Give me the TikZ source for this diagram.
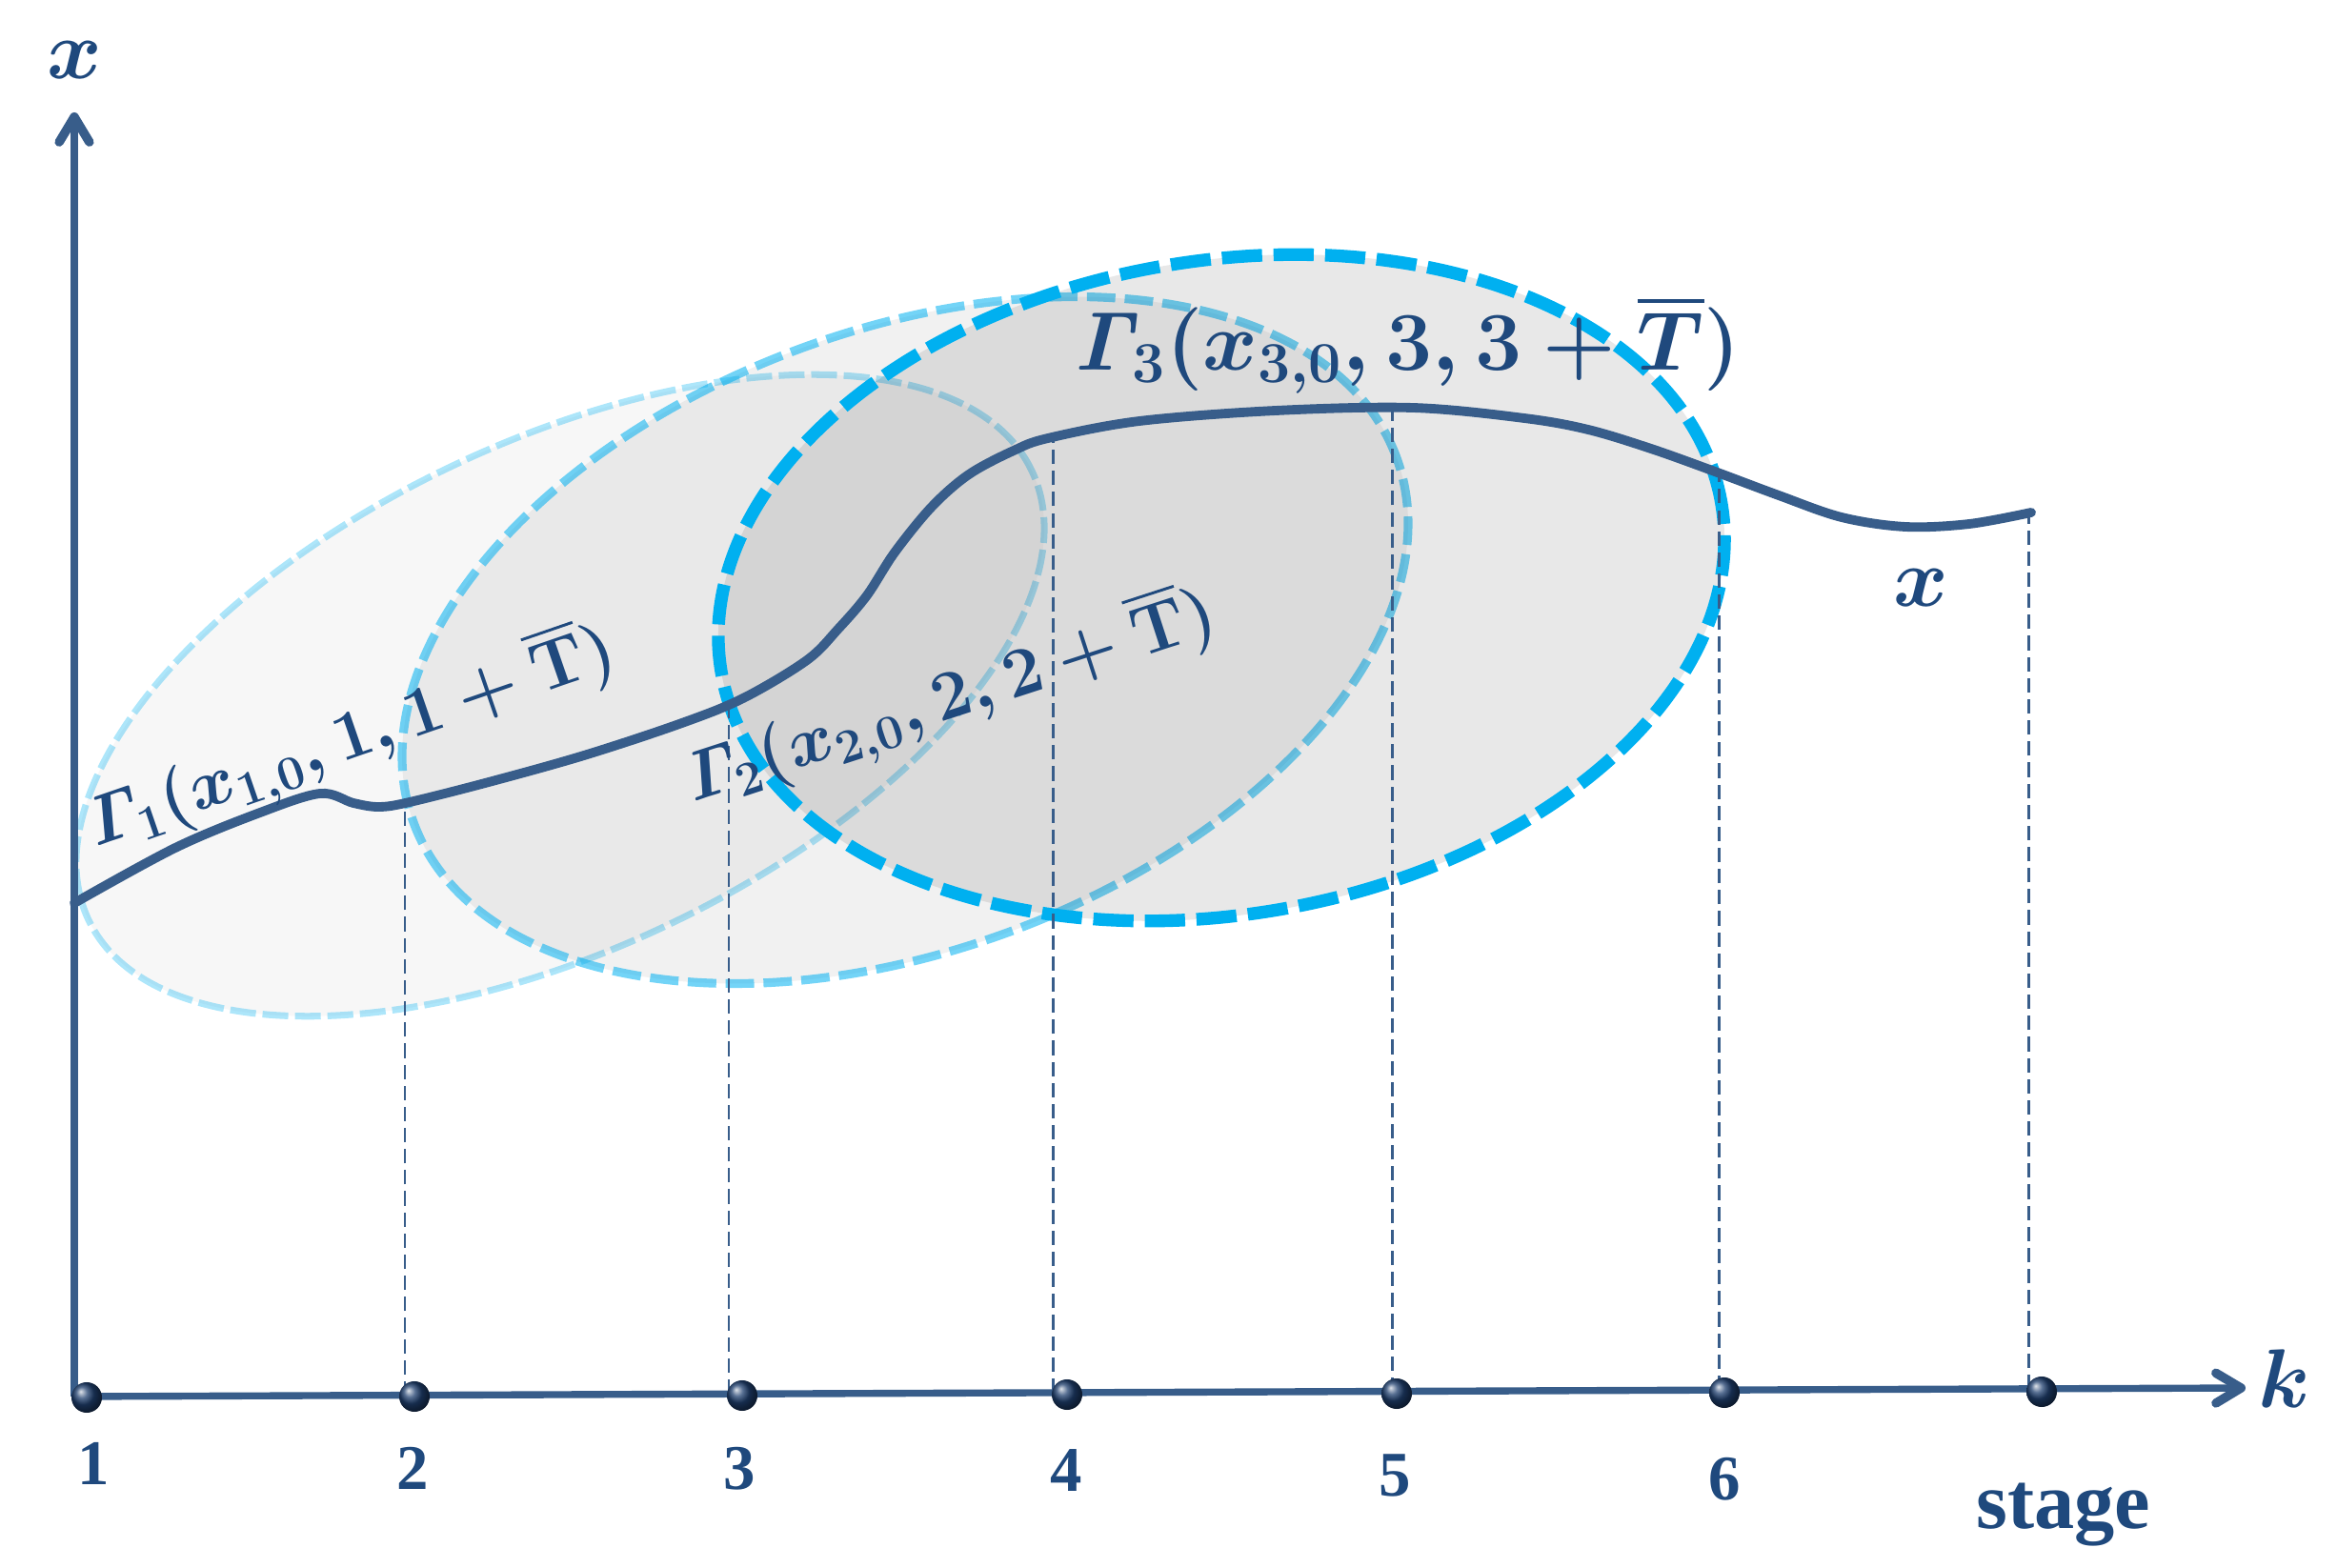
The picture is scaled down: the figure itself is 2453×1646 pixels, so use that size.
\documentclass[tikz,border=0pt]{standalone}
\usepackage{amsmath}
\usepackage{graphicx}
\usepackage[no-math]{fontspec}
\newfontfamily\lblfont{Liberation Serif}
\usetikzlibrary{arrows.meta}
\definecolor{axisblue}{HTML}{385D8A}
\definecolor{txtblue}{HTML}{1F497D}
\definecolor{cyanb}{HTML}{00B0F0}
\definecolor{dotblue}{HTML}{1F3F6E}
\newcommand{\numfont}{\lblfont\bfseries\fontsize{19}{19}\selectfont}
\newcommand{\stagefont}{\lblfont\bfseries\fontsize{24}{24}\selectfont}
\newcommand{\varfont}{\fontsize{24}{24}\selectfont}
\newcommand{\glabfont}{\fontsize{20}{20}\selectfont}
\newcommand{\gbigfont}{\fontsize{26.5}{26.5}\selectfont}
\newcommand{\labone}{$\boldsymbol{\mathit{\Gamma}_{1}(x_{1,0},1,1+\overline{\mathrm{T}})}$}
\newcommand{\labtwo}{$\boldsymbol{\mathit{\Gamma}_{2}(x_{2,0},2,2+\overline{\mathrm{T}})}$}
\newcommand{\labthree}{$\boldsymbol{\mathit{\Gamma}_{3}(x_{3,0},3,3+\overline{T})}$}
\begin{document}
\begin{tikzpicture}[x=0.01cm,y=-0.01cm,
  axisline/.style={draw=axisblue, line width=2.1pt},
  trajectory/.style={draw=axisblue, line width=2.8pt, line cap=round},
  guide/.style={draw=axisblue, line width=0.85pt, dash pattern=on 4.3pt off 2pt},
  lbl/.style={text=txtblue, inner sep=0pt},
  stagenum/.style={lbl, font=\numfont},
  ellone/.style={fill=black, fill opacity=0.03, draw=cyanb, draw opacity=0.32, line width=2pt, dash pattern=on 7.7pt off 2pt},
  elltwo/.style={fill=black, fill opacity=0.055, draw=cyanb, draw opacity=0.55, line width=2.6pt, dash pattern=on 8.5pt off 2.8pt},
  ellthree/.style={fill=black, fill opacity=0.09, draw=cyanb, line width=3.8pt, dash pattern=on 12pt off 3.4pt},
  axtip/.style={-{Straight Barb[length=7.5pt,width=9pt,line width=2.7pt,round]}}
]
\useasboundingbox (0,0) rectangle (2453,1646);

% ellipses
\filldraw[ellone] (588,730) circle[x radius=5.48cm, y radius=2.66cm, rotate=25.5];
\filldraw[elltwo] (950,672) circle[x radius=5.50cm, y radius=3.25cm, rotate=20.5];
\filldraw[ellthree] (1282,617) circle[x radius=5.32cm, y radius=3.43cm, rotate=9.5];

% trajectory
\draw[trajectory] plot[smooth, tension=0.55] coordinates {
 (78,948) (184,890) (273,853) (336,833) (371,843) (398,847) (430,842) (513,821)
 (613,793) (713,760) (780,733) (847,693) (880,660) (910,625) (939,580) (978,532)
 (1017,498) (1064,473) (1100,460) (1196,442) (1339,431) (1483,428) (1600,439)
 (1667,451) (1733,471) (1800,495) (1867,520) (1933,543) (2000,553) (2067,550) (2132,538)};

% axes
\coordinate (O) at (78,1466);
\coordinate (ytip) at (78,118);
\coordinate (xtip) at (2357,1457);

% guide lines: base on axis, top on trajectory
\coordinate (b2) at (425,1465); \coordinate (c2) at (425,845);
\coordinate (b3) at (765,1463); \coordinate (c3) at (765,740);
\coordinate (b4) at (1105,1462); \coordinate (c4) at (1105,462);
\coordinate (b5) at (1461,1461); \coordinate (c5) at (1461,432);
\coordinate (b6) at (1804,1459); \coordinate (c6) at (1804,500);
\coordinate (b7) at (2129,1458); \coordinate (c7) at (2129,540);
\draw[guide] (b2) -- (c2);
\draw[guide] (b3) -- (c3);
\draw[guide] (b4) -- (c4);
\draw[guide] (b5) -- (c5);
\draw[guide] (b6) -- (c6);
\draw[guide] (b7) -- (c7);

\draw[axisline, axtip] (O) -- (ytip);
\draw[axisline, axtip] (O) -- (xtip);

% stage dots
\coordinate (d1) at (91,1467);
\coordinate (d2) at (435,1466);
\coordinate (d3) at (779,1465);
\coordinate (d4) at (1120,1464);
\coordinate (d5) at (1466,1463);
\coordinate (d6) at (1810,1462);
\coordinate (d7) at (2143,1461);
\foreach \q in {1,...,7}{\shade[ball color=dotblue] (d\q) circle[radius=0.16cm];}

% axis labels
\node[lbl, font=\varfont] (ylab) at (78,63) {$\boldsymbol{x}$};
\node[lbl, font=\varfont] (klab) at (2398,1447) {$\boldsymbol{k}$};
\node[lbl, font=\varfont] (xlab) at (2016,617) {$\boldsymbol{x}$};

\node[stagenum] (n1) at (98,1536) {1};
\node[stagenum] (n2) at (433,1541) {2};
\node[stagenum] (n3) at (776,1542) {3};
\node[stagenum] (n4) at (1119,1544) {4};
\node[stagenum] (n5) at (1464,1549) {5};
\node[stagenum] (n6) at (1810,1553) {6};
\node[lbl, font=\stagefont] (stage) at (2166,1590) {stage};

% set labels
\node[lbl, font=\glabfont] (g1) at (368,774) {\rotatebox{19}{\labone}};
\node[lbl, font=\glabfont] (g2) at (997,732) {\rotatebox{18}{\labtwo}};
\node[lbl, font=\gbigfont] (g3) at (1477,362) {\labthree};
\end{tikzpicture}
\end{document}
